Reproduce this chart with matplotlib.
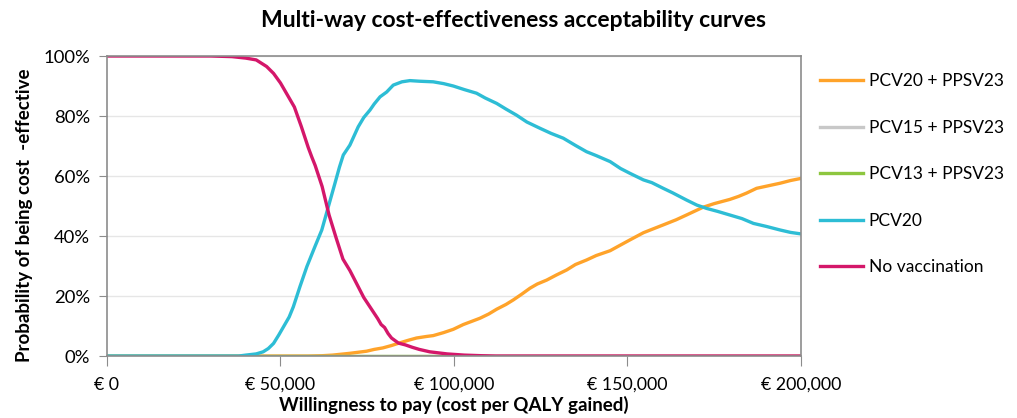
import matplotlib.pyplot as plt
from matplotlib.ticker import FuncFormatter, MultipleLocator

plt.rcParams['font.family'] = ['Lato', 'DejaVu Sans']

# Willingness to pay (thousand EUR) and probability of being cost-effective (%)
wtp_novac = [0, 30, 36, 40, 43, 46, 48, 50, 52, 54, 56, 58, 59, 60, 62, 64, 66, 68,
             70, 72, 74, 76, 78, 79, 80, 81, 82, 84, 86, 88, 90, 93, 98, 103, 108, 112, 200]
p_novac = [100, 100, 99.8, 99.3, 98.7, 96.5, 94.2, 91, 87, 83, 76.5, 69.5, 66.4, 63.5,
           56.5, 47, 39.5, 32.3, 28.5, 24, 19.5, 16, 12.5, 10.5, 9.5, 7.5, 6, 4.3,
           3.7, 2.9, 2.2, 1.4, 0.7, 0.3, 0.1, 0, 0]

wtp_pcv20 = [0, 38, 40, 43, 45, 46.5, 48, 49.5, 51, 52.5, 53.7, 55.6, 57.6, 59.9, 61.9,
             63.8, 65.7, 67, 68.1, 70, 72.4, 74, 75.8, 77, 78.7, 80.6, 82.5, 85, 87.3,
             90, 94, 97, 99.8, 103, 106.5, 109, 112.3, 115, 118, 121, 124.8, 128,
             131.5, 135, 138.2, 141, 145, 148, 150.7, 154.6, 157, 160.3, 163, 167,
             170, 172.8, 176, 179.5, 183, 186.3, 190, 194, 197, 200]
p_pcv20 = [0, 0, 0.3, 0.7, 1.4, 2.5, 4.2, 7, 10, 13, 16.4, 23.1, 29.8, 36.4, 42,
           49.8, 57.6, 63, 67, 70.3, 76.4, 79.5, 82, 84, 86.4, 88, 90.3, 91.4, 91.8,
           91.6, 91.4, 90.8, 90, 88.8, 87.6, 86, 84.2, 82.3, 80.3, 78, 75.9, 74.2,
           72.6, 70.2, 68.1, 66.8, 64.8, 62.5, 60.9, 58.7, 57.8, 55.9, 54.4, 52,
           50.3, 49.2, 48.2, 47, 45.8, 44.2, 43.2, 42, 41.2, 40.7]

wtp_pcv20_ppsv = [0, 58, 62, 65, 70, 74.8, 77, 79.5, 82, 84.4, 87, 89.2, 92, 94, 97,
                  99.8, 102.7, 105, 107.5, 110, 112.3, 115, 117.1, 119.5, 121.9, 124,
                  126.7, 129.5, 132.5, 135, 138.2, 141, 145, 148, 150.7, 154.6, 157,
                  160.3, 164, 167, 171.8, 175, 179.5, 182, 184.3, 187.2, 190, 194,
                  197, 200]
p_pcv20_ppsv = [0, 0, 0.1, 0.3, 0.9, 1.6, 2.2, 2.7, 3.5, 4.4, 5.3, 6, 6.5, 6.8, 7.8,
                8.9, 10.5, 11.5, 12.6, 14, 15.6, 17.2, 18.7, 20.6, 22.6, 24, 25.3, 27,
                28.7, 30.5, 32, 33.5, 35.1, 37, 38.7, 41.1, 42.2, 43.7, 45.4, 47, 49.6,
                50.8, 52.2, 53.2, 54.3, 55.9, 56.6, 57.6, 58.5, 59.2]

wtp_flat = [0, 200]
p_pcv15_ppsv = [0, 0]
p_pcv13_ppsv = [0, 0]

fig = plt.figure(figsize=(10.17, 4.18), dpi=100)
ax = fig.add_axes([0.1052, 0.1483, 0.6824, 0.7177])

lw = 2.4
ax.plot(wtp_pcv20_ppsv, p_pcv20_ppsv, color='#FFA32A', lw=lw, label='PCV20 + PPSV23')
ax.plot(wtp_flat, p_pcv15_ppsv, color='#C8C8C8', lw=lw, label='PCV15 + PPSV23')
ax.plot(wtp_flat, p_pcv13_ppsv, color='#8DC63F', lw=lw, label='PCV13 + PPSV23')
ax.plot(wtp_pcv20, p_pcv20, color='#2DBDD5', lw=lw, label='PCV20')
ax.plot(wtp_novac, p_novac, color='#D4176A', lw=lw, label='No vaccination')

ax.set_xlim(0, 200)
ax.set_ylim(0, 100)
ax.xaxis.set_major_locator(MultipleLocator(50))
ax.yaxis.set_major_locator(MultipleLocator(20))
ax.xaxis.set_major_formatter(FuncFormatter(lambda v, p: '€ {:,.0f}'.format(v * 1000)))
ax.yaxis.set_major_formatter(FuncFormatter(lambda v, p: '{:.0f}%'.format(v)))
ax.grid(axis='y', color='#E6E6E6', lw=1)
ax.set_axisbelow(True)
for s in ax.spines.values():
    s.set_color('#8C8C8C')
    s.set_linewidth(1.2)
ax.tick_params(axis='x', direction='out', length=7, color='#8C8C8C', labelsize=12.8, pad=8)
ax.tick_params(axis='y', direction='out', length=6, color='#8C8C8C', labelsize=13.3, pad=6)

ax.set_xlabel('Willingness to pay (cost per QALY gained)', fontsize=13.5,
              fontweight='bold', labelpad=2)
ax.set_ylabel('Probability of being cost  -effective', fontsize=13.5,
              fontweight='bold')
ax.yaxis.set_label_coords(-0.107, 0.47)
fig.text(0.505, 0.95, 'Multi-way cost-effectiveness acceptability curves',
         ha='center', va='center', fontsize=16.5, fontweight='bold')

ax.legend(loc='upper left', bbox_to_anchor=(1.005, 0.995), frameon=False,
          fontsize=12.5, handlelength=2.5, handletextpad=0.3, labelspacing=1.76)

fig.savefig('out.png', dpi=100)
